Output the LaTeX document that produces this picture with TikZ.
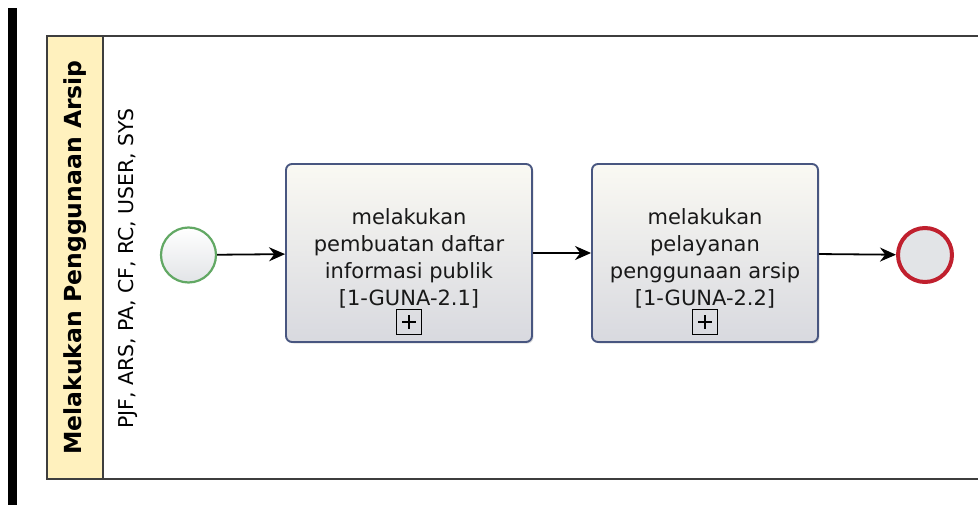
\documentclass[tikz,border=0pt]{standalone}
\usepackage{fontspec}
\setmainfont{DejaVu Sans}
\usepackage{xcolor}
\usepackage{tikz}
\usetikzlibrary{arrows.meta,shadows}
\definecolor{bpyellow}{RGB}{255, 241, 190}
\definecolor{bpline}{RGB}{62, 62, 62}
\definecolor{bpblue}{RGB}{72, 86, 128}
\definecolor{bptop}{RGB}{250, 249, 243}
\definecolor{bpbottom}{RGB}{216, 217, 223}
\definecolor{bpgreen}{RGB}{98, 168, 100}
\definecolor{bpred}{RGB}{192, 32, 46}
\definecolor{bpgrey}{RGB}{226, 228, 231}

\begin{document}
\begin{tikzpicture}[x=1pt, y=-1pt,
    taskbox/.style={draw=bpblue, line width=1.9pt, rounded corners=6pt,
        top color=bptop, bottom color=bpbottom, inner sep=0pt,
        drop shadow={shadow xshift=1.5pt, shadow yshift=-1.5pt, opacity=0.25}},
    tasktext/.style={align=center, inner sep=0pt, text=black!90, font=\fontsize{21}{27}\selectfont},
    marker/.style={draw=black, line width=1.2pt, minimum size=25pt, inner sep=0pt,
        path picture={\draw[line width=1.2pt] (path picture bounding box.center) +(-7pt,0) -- +(7pt,0)
            (path picture bounding box.center) +(0,-7pt) -- +(0,7pt);}},
    startev/.style={circle, draw=bpgreen, line width=2.2pt, minimum size=55pt, inner sep=0pt,
        top color=white, bottom color=bpgrey},
    endev/.style={circle, draw=bpred, line width=4pt, minimum size=54pt, inner sep=0pt,
        fill=bpgrey},
    flow/.style={draw=black, line width=1.8pt, -{Stealth[length=16pt, width=14pt]}}]
\useasboundingbox (0,0) rectangle (978,505);

% Black bar on the left
\fill[black] (8,8) rectangle (17,505);

% Pool and lane
\fill[bpyellow] (47,36) rectangle (103,479);
\draw[bpline, line width=2.2pt] (978,36) -- (47,36) -- (47,479) -- (978,479);
\draw[bpline, line width=1.8pt] (103,36) -- (103,479);
\node[rotate=90, font=\fontsize{23.5}{28}\selectfont\bfseries] (pool) at (75,257.5) {Melakukan Penggunaan Arsip};
\node[rotate=90, font=\fontsize{20.4}{24}\selectfont] (lane) at (128,268.5) {PJF, ARS, PA, CF, RC, USER, SYS};

% Events and tasks
\node[startev] (start) at (188.5,255) {};
\node[taskbox, minimum width=246pt, minimum height=178pt] (guna1) at (409,253) {};
\node[tasktext] (guna1txt) at (409,258) {melakukan\\pembuatan daftar\\informasi publik\\{[}1-GUNA-2.1{]}};
\node[marker] (guna1plus) at (409,322) {};
\node[taskbox, minimum width=226pt, minimum height=178pt] (guna2) at (705,253) {};
\node[tasktext] (guna2txt) at (705,258) {melakukan\\pelayanan\\penggunaan arsip\\{[}1-GUNA-2.2{]}};
\node[marker] (guna2plus) at (705,322) {};
\node[endev] (finish) at (925,255) {};

% Sequence flows
\draw[flow] (start) -- (guna1);
\draw[flow] (guna1) -- (guna2);
\draw[flow] (guna2) -- (finish);
\end{tikzpicture}
\end{document}
